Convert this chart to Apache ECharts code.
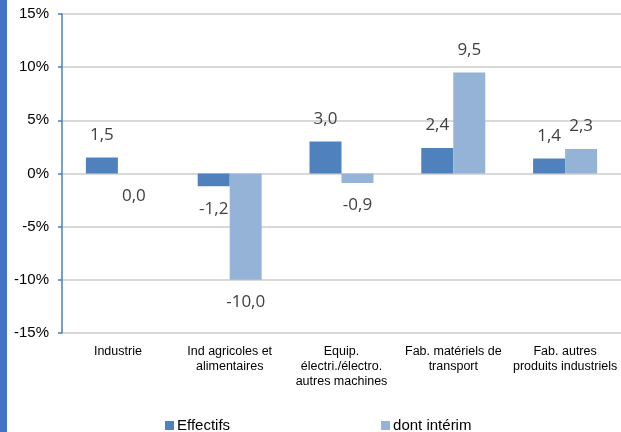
<!DOCTYPE html>
<html>
<head>
<meta charset="utf-8">
<script src="https://cdn.jsdelivr.net/npm/echarts@6/dist/echarts.min.js"></script>
<style>
  html, body { margin: 0; padding: 0; background: #fff; }
  #chart { width: 621px; height: 432px; }
</style>
</head>
<body>
<div id="chart"></div>
<script>
const categories = [
  'Industrie',
  'Ind agricoles et\nalimentaires',
  'Equip.\nélectri./électro.\nautres machines',
  'Fab. matériels de\ntransport',
  'Fab. autres\nproduits industriels'
]
const effectifs = [1.5, -1.2, 3.0, 2.4, 1.4]
const interim = [0.0, -10.0, -0.9, 9.5, 2.3]
const yTicks = { min: -15, max: 15, step: 5 }

const fmt = (p) => p.value.toFixed(1).replace('.', ',')

const labelStyle = {
  show: true,
  position: 'outside',
  distance: 14,
  fontFamily: 'Open Sans',
  fontSize: 17,
  color: '#404040',
  formatter: fmt
}

// zero values are drawn under the axis like the negative ones
const toItems = (arr) => arr.map((v) => (v === 0 ? { value: v, label: { position: 'bottom' } } : v))

const chart = echarts.init(document.getElementById('chart'))
chart.setOption({
  animation: false,
  grid: { left: 62, right: 0, top: 14, bottom: 99 },
  graphic: [{
    type: 'rect',
    shape: { x: 0, y: 0, width: 7, height: 432 },
    style: { fill: '#4472c4' }
  }],
  legend: {
    left: 160,
    top: 413,
    itemGap: 151,
    itemWidth: 9,
    itemHeight: 9,
    icon: 'rect',
    textStyle: { fontFamily: 'Liberation Sans', fontSize: 15, color: '#000', padding: [0, 0, 0, -2] },
    data: ['Effectifs', 'dont intérim']
  },
  xAxis: {
    type: 'category',
    data: categories,
    axisLine: { show: false, onZero: false },
    axisTick: { show: false },
    axisLabel: {
      interval: 0,
      margin: 11,
      fontFamily: 'Liberation Sans',
      fontSize: 12.5,
      lineHeight: 15,
      color: '#000'
    }
  },
  yAxis: {
    type: 'value',
    min: yTicks.min,
    max: yTicks.max,
    interval: yTicks.step,
    axisLine: { show: true, lineStyle: { color: '#4a7ebb', width: 1.5 } },
    axisTick: { show: true, length: 4, lineStyle: { color: '#4a7ebb', width: 1.5 } },
    axisLabel: {
      formatter: '{value}%',
      margin: 13,
      fontFamily: 'Liberation Sans',
      fontSize: 15,
      color: '#000'
    },
    splitLine: { lineStyle: { color: '#d9d9d9', width: 2 } }
  },
  series: [
    {
      name: 'Effectifs',
      type: 'bar',
      data: toItems(effectifs),
      barWidth: 32,
      barGap: '0%',
      itemStyle: { color: '#4f81bd' },
      label: labelStyle
    },
    {
      name: 'dont intérim',
      type: 'bar',
      data: toItems(interim),
      barWidth: 32,
      barGap: '0%',
      itemStyle: { color: '#95b3d7' },
      label: labelStyle
    }
  ]
})
</script>
</body>
</html>
